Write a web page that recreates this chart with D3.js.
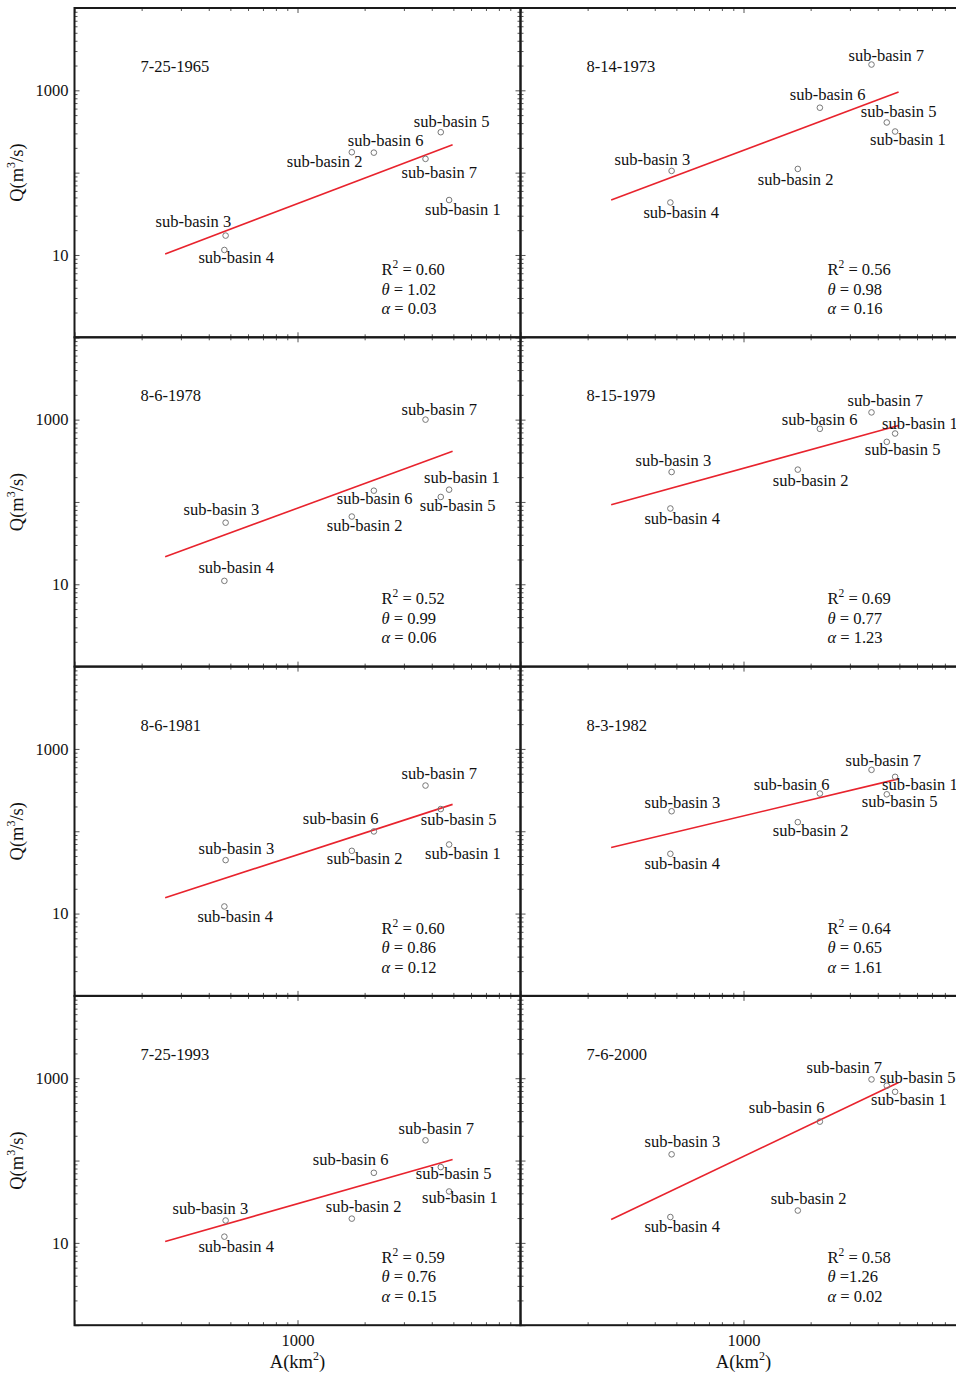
<!DOCTYPE html>
<html>
<head>
<meta charset="utf-8">
<style>
  body { margin: 0; background: #fff; }
</style>
</head>
<body>
<svg width="956" height="1378" font-family="Liberation Serif"></svg>
<script src="https://cdn.jsdelivr.net/npm/d3@7/dist/d3.min.js"></script>
<script>
// sub-basins and their drainage areas (km2)
var subBasins = ["sub-basin 1", "sub-basin 2", "sub-basin 3", "sub-basin 4",
                 "sub-basin 5", "sub-basin 6", "sub-basin 7"];
var areaKm2 = [4785, 1752, 476, 470, 4390, 2200, 3750];

// flood events
var events = ["7-25-1965", "8-14-1973", "8-6-1978", "8-15-1979",
              "8-6-1981", "8-3-1982", "7-25-1993", "7-6-2000"];

// peak discharge Q (m3/s) per event, sub-basin 1..7
var peakQ = [
  [46.5, 177, 17.2, 11.5, 310, 175, 147],
  [316, 111, 105, 43.4, 407, 615, 2057],
  [141, 66.5, 56, 11.0, 115, 137, 1000],
  [678, 247, 231, 83.3, 537, 773, 1224],
  [69, 57.8, 44.6, 12.2, 186, 99.5, 359],
  [458, 129, 175, 53.2, 281, 287, 557],
  [42.1, 19.7, 18.7, 11.9, 83.3, 71, 176],
  [684, 24.7, 119, 20.6, 811, 297, 967]
];

// fitted line end points
var fitA = [255, 4960];
var fitQ = [
  [10.3, 218], [46.5, 953], [21.6, 413], [92.3, 850],
  [15.6, 212], [63.5, 433], [10.4, 103], [19.2, 889]
];

var r2Text = ["0.60", "0.56", "0.52", "0.69", "0.60", "0.64", "0.59", "0.58"];
var thetaText = ["= 1.02", "= 0.98", "= 0.99", "= 0.77", "= 0.86", "= 0.65", "= 0.76", "=1.26"];
var alphaText = ["= 0.03", "= 0.16", "= 0.06", "= 1.23", "= 0.12", "= 1.61", "= 0.15", "= 0.02"];

var xLabelTicks = [1000];
var yLabelTicks = [10, 1000];

// label placement (px offset of text start / baseline from the point)
var labelOffset = [
  [[-24, 15], [-65, 15], [-70, -9], [-26, 13], [-27, -5], [-26, -7], [-24, 19]],
  [[-25, 13], [-40, 16], [-57, -6], [-27, 16], [-26, -5], [-30, -8], [-23, -4]],
  [[-25, -7], [-25, 14], [-42, -8], [-26, -8], [-21, 14], [-37, 13], [-24, -5]],
  [[-13, -5], [-25, 16], [-36, -6], [-26, 16], [-22, 13], [-38, -4], [-24, -6]],
  [[-24, 14], [-25, 13], [-27, -6], [-27, 16], [-20, 16], [-71, -7], [-24, -7]],
  [[-13, 13], [-25, 14], [-27, -3], [-26, 15], [-25, 13], [-66, -4], [-26, -4]],
  [[-27, 12], [-26, -7], [-53, -6], [-26, 15], [-25, 12], [-61, -8], [-27, -6]],
  [[-24, 13], [-27, -7], [-27, -7], [-26, 15], [-7, -3], [-71, -9], [-65, -6]]
];

var FONT = "Liberation Serif, Times New Roman, serif";
var svg = d3.select("svg");
var panelW = 446, panelH = 329.3;
var colLeft = [74.5, 520.5];
var rowTop = [8, 337.3, 666.6, 995.9];
var fontSize = 16.5;

var yMajor = [1, 10, 100, 1000, 10000], xMajor = [100, 1000, 10000];
var yMinor = [], xMinor = [];
[1, 10, 100, 1000].forEach(function(k) {
  for (var m = 2; m <= 9; m++) yMinor.push(m * k);
});
[100, 1000].forEach(function(k) {
  for (var m = 2; m <= 9; m++) xMinor.push(m * k);
});

function styleAxis(sel) {
  sel.attr("font-family", FONT).attr("font-size", fontSize);
  sel.select(".domain").remove();
  sel.selectAll(".tick line").attr("stroke", "#555").attr("stroke-width", 1);
  sel.selectAll(".tick text").attr("fill", "#111");
}

events.forEach(function(ev, i) {
  var col = i % 2, row = Math.floor(i / 2);
  var x = d3.scaleLog().domain([100, 10000]).range([0, panelW]);
  var y = d3.scaleLog().domain([1, 10000]).range([panelH, 0]);

  var g = svg.append("g")
    .attr("transform", "translate(" + colLeft[col] + "," + rowTop[row] + ")")
    .attr("font-family", FONT).attr("fill", "#111");

  // minor and major ticks on all four sides, pointing inward
  [[d3.axisLeft, y, 0, 0], [d3.axisRight, y, panelW, 0],
   [d3.axisTop, x, 0, 0], [d3.axisBottom, x, 0, panelH]].forEach(function(a) {
    var vertical = a[1] === y;
    g.append("g").attr("transform", "translate(" + a[2] + "," + a[3] + ")")
      .call(a[0](a[1]).tickValues(vertical ? yMinor : xMinor).tickSize(-3).tickFormat(""))
      .call(styleAxis);
    g.append("g").attr("transform", "translate(" + a[2] + "," + a[3] + ")")
      .call(a[0](a[1]).tickValues(vertical ? yMajor : xMajor).tickSize(-5).tickFormat(""))
      .call(styleAxis);
  });

  // tick labels
  if (col === 0) {
    g.append("g")
      .call(d3.axisLeft(y).tickValues(yLabelTicks).tickSize(0).tickPadding(6)
        .tickFormat(d3.format("d")))
      .call(styleAxis);
    g.append("text")
      .attr("transform", "translate(" + (23 - colLeft[0]) + "," + panelH / 2 + ") rotate(-90)")
      .attr("text-anchor", "middle")
      .attr("font-size", 18.5)
      .call(function(t) {
        t.append("tspan").text("Q(m");
        t.append("tspan").attr("dy", -8).attr("font-size", 12).text("3");
        t.append("tspan").attr("dy", 8).text("/s)");
      });
  }
  if (row === 3) {
    g.append("g").attr("transform", "translate(0," + panelH + ")")
      .call(d3.axisBottom(x).tickValues(xLabelTicks).tickSize(0).tickPadding(9)
        .tickFormat(d3.format("d")))
      .call(styleAxis);
    g.append("text")
      .attr("x", x(1000)).attr("y", panelH + 43)
      .attr("text-anchor", "middle")
      .attr("font-size", 18.5)
      .call(function(t) {
        t.append("tspan").text("A(km");
        t.append("tspan").attr("dy", -8).attr("font-size", 12).text("2");
        t.append("tspan").attr("dy", 8).text(")");
      });
  }

  // frame
  g.append("rect")
    .attr("width", panelW).attr("height", panelH)
    .attr("fill", "none").attr("stroke", "#1a1a1a").attr("stroke-width", 2);

  // regression line
  var line = d3.line()
    .x(function(d) { return x(d[0]); })
    .y(function(d) { return y(d[1]); });
  g.append("path")
    .datum(fitA.map(function(a, j) { return [a, fitQ[i][j]]; }))
    .attr("d", line)
    .attr("fill", "none").attr("stroke", "#e8232d").attr("stroke-width", 1.6);

  var pts = subBasins.map(function(name, j) {
    return { name: name, a: areaKm2[j], q: peakQ[i][j], off: labelOffset[i][j] };
  });

  g.selectAll(".pt").data(pts).enter().append("circle")
    .attr("class", "pt")
    .attr("cx", function(d) { return x(d.a); })
    .attr("cy", function(d) { return y(d.q); })
    .attr("r", 2.8)
    .attr("fill", "none").attr("stroke", "#777").attr("stroke-width", 1);

  g.selectAll(".lab").data(pts).enter().append("text")
    .attr("class", "lab")
    .attr("x", function(d) { return x(d.a) + d.off[0]; })
    .attr("y", function(d) { return y(d.q) + d.off[1]; })
    .attr("font-size", fontSize)
    .text(function(d) { return d.name; });

  // event date
  g.append("text").attr("x", 66).attr("y", 64)
    .attr("font-size", fontSize).text(ev);

  // statistics
  var st = g.append("g").attr("transform", "translate(307,267)").attr("font-size", fontSize);
  st.append("text").call(function(t) {
    t.append("tspan").text("R");
    t.append("tspan").attr("dy", -7).attr("font-size", 11.5).text("2");
    t.append("tspan").attr("dy", 7).text(" = " + r2Text[i]);
  });
  st.append("text").attr("y", 19.5).call(function(t) {
    t.append("tspan").attr("font-style", "italic").text("\u03b8");
    t.append("tspan").text(" " + thetaText[i]);
  });
  st.append("text").attr("y", 39).call(function(t) {
    t.append("tspan").attr("font-style", "italic").text("\u03b1");
    t.append("tspan").text(" " + alphaText[i]);
  });
});
</script>
</body>
</html>
